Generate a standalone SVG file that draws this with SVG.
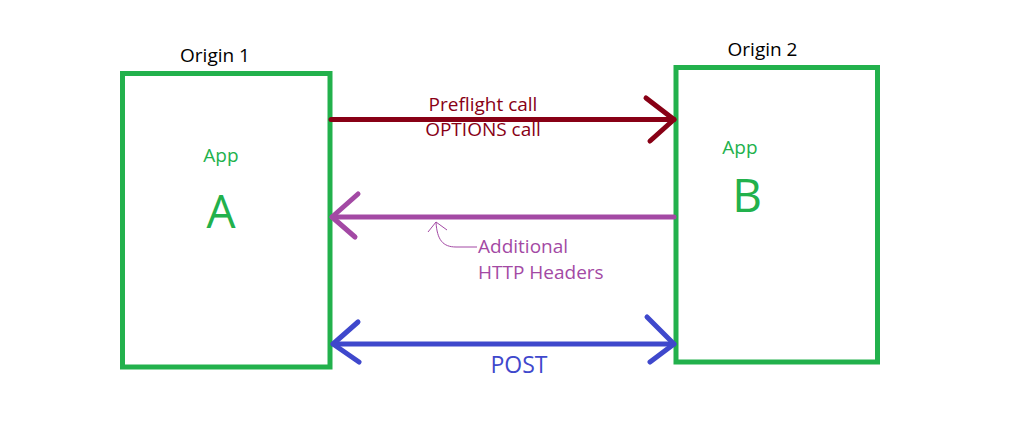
<svg xmlns="http://www.w3.org/2000/svg" width="1024" height="447" viewBox="0 0 1024 447">
  <style>
    text { font-family: "Open Sans", "Noto Sans", sans-serif; }
    .box { fill: none; stroke: #22B14C; stroke-width: 5; }
    .origin { fill: #000; font-size: 19px; text-anchor: middle; }
    .app { fill: #22B14C; font-size: 19px; text-anchor: middle; }
    .big { fill: #22B14C; font-size: 46px; text-anchor: middle; }
    .line { fill: none; stroke-width: 5; stroke-linecap: round; stroke-linejoin: round; }
  </style>
  <rect width="1024" height="447" fill="#fff"/>

  <g id="origin1">
    <text class="origin" x="215" y="62">Origin 1</text>
    <rect class="box" x="122.5" y="73.5" width="207.5" height="293.5"/>
    <text class="app" x="221" y="162">App</text>
    <text class="big" x="221" y="228">A</text>
  </g>

  <g id="origin2">
    <text class="origin" x="762.5" y="56">Origin 2</text>
    <rect class="box" x="676" y="67.5" width="201.5" height="294.5"/>
    <text class="app" x="740" y="154">App</text>
    <text class="big" x="747" y="212">B</text>
  </g>

  <g id="connectors">
    <!-- preflight request -->
    <g stroke="#880015" class="line">
      <path d="M331 119.5 H674"/>
      <path d="M646 98 L674 119.5 L650 141"/>
    </g>
    <text x="483" y="111" fill="#880015" font-size="19" text-anchor="middle">Preflight call</text>
    <text x="483" y="136" fill="#880015" font-size="19" text-anchor="middle">OPTIONS call</text>

    <!-- response headers -->
    <g stroke="#A349A4" class="line">
      <path d="M674 217 H332"/>
      <path d="M358 194 L332 217 L355 237"/>
    </g>
    <g stroke="#A349A4" stroke-width="1" fill="none">
      <path d="M477 247 H456 C443 247 437 240 436 222"/>
      <path d="M428 232 L436 222 L447 230"/>
    </g>
    <text x="478" y="253" fill="#A349A4" font-size="19">Additional</text>
    <text x="478" y="279" fill="#A349A4" font-size="19">HTTP Headers</text>

    <!-- actual request -->
    <g stroke="#3F48CC" class="line">
      <path d="M333 344 H674"/>
      <path d="M358 322 L333 344 L359 362"/>
      <path d="M647 317 L674 344 L650 362"/>
    </g>
    <text x="519" y="373" fill="#3F48CC" font-size="23" text-anchor="middle">POST</text>
  </g>
</svg>
